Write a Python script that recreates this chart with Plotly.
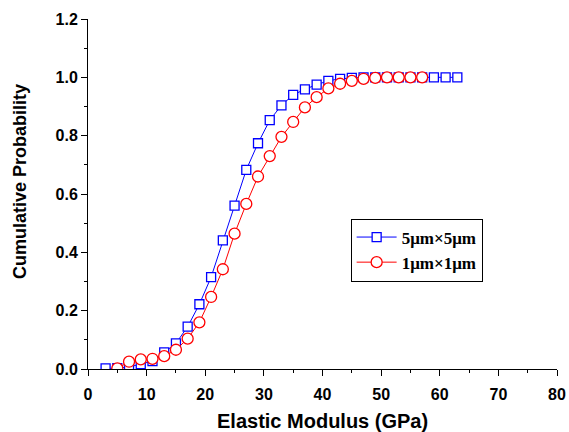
import plotly.graph_objects as go

x_5um = [3, 5, 7, 9, 11, 13, 15, 17, 19, 21, 23, 25, 27, 29, 31, 33, 35, 37, 39, 41,
         43, 45, 47, 49, 51, 53, 55, 57, 59, 61, 63]
y_5um = [0.002, 0.003, 0.007, 0.017, 0.027, 0.057, 0.088, 0.145, 0.222, 0.315, 0.441,
         0.560, 0.683, 0.774, 0.853, 0.904, 0.940, 0.959, 0.975, 0.988, 0.995, 0.998,
         1.0, 1.0, 1.0, 1.0, 1.0, 1.0, 1.0, 1.0, 1.0]

x_1um = [5, 7, 9, 11, 13, 15, 17, 19, 21, 23, 25, 27, 29, 31, 33, 35, 37, 39, 41, 43,
         45, 47, 49, 51, 53, 55, 57]
y_1um = [0.002, 0.025, 0.033, 0.035, 0.044, 0.066, 0.104, 0.160, 0.247, 0.342, 0.464,
         0.566, 0.660, 0.730, 0.796, 0.847, 0.897, 0.932, 0.962, 0.978, 0.988, 0.995,
         0.998, 1.0, 1.0, 1.0, 1.0]

x_ticks = [0, 10, 20, 30, 40, 50, 60, 70, 80]
y_ticks = [0.0, 0.2, 0.4, 0.6, 0.8, 1.0, 1.2]

fig = go.Figure()
fig.add_trace(go.Scatter(
    x=x_5um, y=y_5um, mode="lines+markers", name="<b>5\u03bcm\u00d75\u03bcm</b>",
    line=dict(color="#0000ff", width=1),
    marker=dict(symbol="square", size=9, color="white", line=dict(color="#0000ff", width=1.3)),
))
fig.add_trace(go.Scatter(
    x=x_1um, y=y_1um, mode="lines+markers", name="<b>1\u03bcm\u00d71\u03bcm</b>",
    line=dict(color="#ff0000", width=1),
    marker=dict(symbol="circle", size=11, color="white", line=dict(color="#ff0000", width=1.3)),
))

tick_font = dict(family="Arial, Liberation Sans", size=16, color="black")
fig.update_layout(
    width=569, height=432,
    margin=dict(l=88, r=12, t=19, b=63),
    paper_bgcolor="white", plot_bgcolor="white",
    showlegend=True,
    legend=dict(
        x=0.56, y=0.43, xanchor="left", yanchor="top",
        bordercolor="black", borderwidth=1, bgcolor="white",
        font=dict(family="Liberation Serif, Times New Roman", size=17, color="black"),
        tracegroupgap=0, itemwidth=40,
    ),
    xaxis=dict(
        range=[0, 80], tickvals=x_ticks, ticktext=[f"<b>{v}</b>" for v in x_ticks],
        showgrid=False, zeroline=False, showline=True, linecolor="black", linewidth=1,
        ticks="outside", ticklen=6, tickcolor="black", automargin=False,
        ticklabelstandoff=5,
        minor=dict(ticks="outside", ticklen=3, dtick=5, tickcolor="black"),
        tickfont=tick_font,
    ),
    yaxis=dict(
        range=[0, 1.2], tickvals=y_ticks, ticktext=[f"<b>{v:.1f}</b>" for v in y_ticks],
        showgrid=False, zeroline=False, showline=True, linecolor="black", linewidth=1,
        ticks="outside", ticklen=6, tickcolor="black", automargin=False,
        minor=dict(ticks="outside", ticklen=3, dtick=0.1, tickcolor="black"),
        tickfont=tick_font,
    ),
    annotations=[
        dict(text="<b>Elastic Modulus (GPa)</b>", xref="paper", yref="paper",
             x=0.5, y=-0.149, xanchor="center", yanchor="middle", showarrow=False,
             font=dict(family="Arial, Liberation Sans", size=20, color="black")),
        dict(text="<b>Cumulative Probability</b>", xref="paper", yref="paper",
             x=-0.145, y=0.537, xanchor="center", yanchor="middle", showarrow=False,
             textangle=-90,
             font=dict(family="Arial, Liberation Sans", size=18, color="black")),
    ],
)
fig.write_html("out.html")
